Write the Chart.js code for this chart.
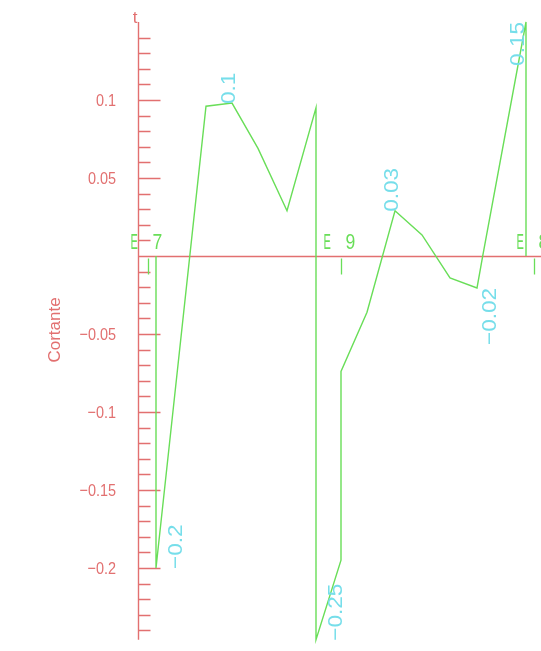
<!DOCTYPE html>
<html>
<head>
<meta charset="utf-8">
<script src="https://cdn.jsdelivr.net/npm/chart.js@4/dist/chart.umd.min.js"></script>
<style>
  html, body { margin: 0; padding: 0; background: #fff; }
  #wrap { width: 541px; height: 651px; }
</style>
</head>
<body>
<div id="wrap"><canvas id="myChart"></canvas></div>
<script>
// shear diagram: station (x) and shear value (y)
const stationX = [1.8, 1.8, 6.8, 9.4, 12.0, 14.9, 17.8, 17.8, 20.3, 20.3, 22.9, 25.7, 28.4, 31.2, 33.9, 34.5, 38.8, 38.8];
const shearY   = [0, -0.2, 0.096, 0.098, 0.069, 0.029, 0.095, -0.246, -0.195, -0.074, -0.036, 0.029, 0.0135, -0.014, -0.0205, 0.001, 0.15, 0];

// value labels: index of the point and the text
const labelIndex = [1, 3, 7, 11, 14, 16];
const labelText  = ['\u22120.2', '0.1', '\u22120.25', '0.03', '\u22120.02', '0.15'];

// y axis tick labels
const yTickValues = [0.1, 0.05, -0.05, -0.1, -0.15, -0.2];
const yTickLabels = ['0.1', '0.05', '\u22120.05', '\u22120.1', '\u22120.15', '\u22120.2'];

// supports along the beam
const supportX    = [1.0, 20.3, 39.6];
const supportName = ['7', '9', '8'];

const RED = 'rgb(226,112,112)';
const GREEN = 'rgb(105,222,88)';
const CYAN = 'rgb(118,222,234)';

function txt(ctx, s, x, y, o) {
    ctx.save();
    ctx.translate(x, y);
    if (o.rot) ctx.rotate(o.rot);
    ctx.scale(o.sx || 1, 1);
    ctx.font = o.font;
    ctx.fillStyle = o.color;
    ctx.textAlign = o.align || 'left';
    ctx.textBaseline = o.base || 'alphabetic';
    ctx.fillText(s, 0, 0);
    ctx.restore();
}

const cadAxes = {
    id: 'cadAxes',
    beforeDatasetsDraw(chart) {
        const ctx = chart.ctx;
        const xs = chart.scales.x, ys = chart.scales.y;
        const ax = Math.round(xs.left) + 0.5;
        const y0 = Math.round(ys.getPixelForValue(0)) + 0.5;
        ctx.save();
        ctx.strokeStyle = RED;
        ctx.lineWidth = 1.4;
        ctx.beginPath();
        ctx.moveTo(ax, ys.getPixelForValue(0.15));
        ctx.lineTo(ax, ys.getPixelForValue(-0.246));
        ctx.moveTo(ax, y0);
        ctx.lineTo(xs.right, y0);
        // minor ticks every 0.01, major every 0.05
        for (let i = -24; i <= 14; i++) {
            if (i === 0) continue;
            const py = Math.round(ys.getPixelForValue(i / 100)) + 0.5;
            const len = (i % 5 === 0) ? 22 : 12;
            ctx.moveTo(ax, py);
            ctx.lineTo(ax + len, py);
        }
        ctx.stroke();

        yTickValues.forEach((v, k) => {
            txt(ctx, yTickLabels[k], 116, ys.getPixelForValue(v) + 6,
                { font: '17px "Liberation Sans"', sx: 0.85, color: RED, align: 'right' });
        });
        txt(ctx, 'Cortante', 60, 330,
            { font: '17px "Liberation Sans"', color: RED, align: 'center', rot: -Math.PI / 2 });
        txt(ctx, 't', 135, 23, { font: '17px "Liberation Sans"', color: RED, align: 'center' });

        // supports
        ctx.strokeStyle = GREEN;
        ctx.lineWidth = 1.3;
        supportX.forEach((sx, k) => {
            const px = Math.round(xs.getPixelForValue(sx)) + 0.5;
            ctx.beginPath();
            ctx.moveTo(px, y0 + 2);
            ctx.lineTo(px, y0 + 18);
            ctx.stroke();
            txt(ctx, 'E', px - 18, y0 - 8, { font: '22px "Liberation Sans"', sx: 0.5, color: GREEN });
            txt(ctx, supportName[k], px + 4, y0 - 8, { font: '22px "Liberation Sans"', sx: 0.8, color: GREEN });
        });
        ctx.restore();
    },
    afterDatasetsDraw(chart) {
        const ctx = chart.ctx;
        const xs = chart.scales.x, ys = chart.scales.y;
        labelIndex.forEach((idx, k) => {
            const v = shearY[idx];
            const px = xs.getPixelForValue(stationX[idx]);
            const py = ys.getPixelForValue(v);
            const ends = (idx === 14 || idx === 16);
            const dx = v < 0 ? (idx === 14 ? 19 : 26) : (idx === 16 ? -2 : 3);
            txt(ctx, labelText[k], px + dx, py + (ends ? 0 : 1),
                { font: '20.5px "Liberation Sans"', sx: 1.1, color: CYAN,
                  align: ends ? 'right' : 'left', rot: -Math.PI / 2 });
        });
    }
};

const ctx = document.getElementById('myChart').getContext('2d');
const myChart = new Chart(ctx, {
    type: 'line',
    data: {
        datasets: [{
            data: stationX.map((x, i) => ({ x: x, y: shearY[i] })),
            borderColor: GREEN,
            borderWidth: 1.4,
            pointRadius: 0,
            tension: 0,
            fill: false,
            clip: false
        }]
    },
    options: {
        responsive: true,
        maintainAspectRatio: false,
        animation: false,
        layout: { padding: { left: 138, top: 22, right: 0, bottom: 5 } },
        scales: {
            x: { type: 'linear', min: 0, max: 40.3, display: false },
            y: { type: 'linear', min: -0.25, max: 0.15, display: false }
        },
        plugins: { legend: { display: false }, tooltip: { enabled: false } }
    },
    plugins: [cadAxes]
});
</script>
</body>
</html>
